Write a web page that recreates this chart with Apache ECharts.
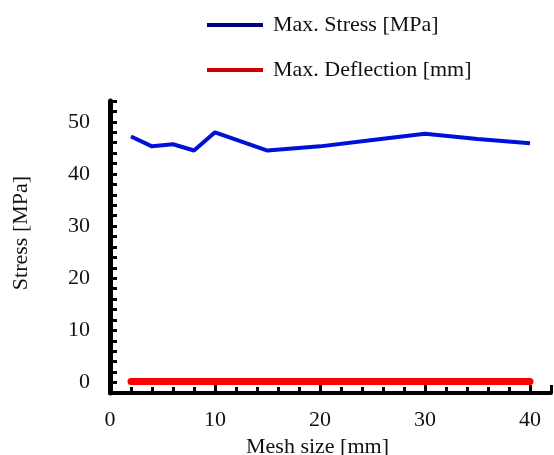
<!DOCTYPE html>
<html>
<head>
<meta charset="utf-8">
<script src="https://cdn.jsdelivr.net/npm/echarts@6/dist/echarts.min.js"></script>
<style>
  html, body { margin: 0; padding: 0; background: #fff; }
  #chart { width: 554px; height: 455px; }
</style>
</head>
<body>
<div id="chart"></div>
<script>
// mesh size [mm]
var meshSize = [2, 4, 6, 8, 10, 15, 20, 25, 30, 35, 40];
var maxStress = [47.2, 45.3, 45.7, 44.5, 48.0, 44.5, 45.3, 46.5, 47.7, 46.7, 45.9];
var maxDeflection = [0.2, 0.2, 0.2, 0.2, 0.2, 0.2, 0.2, 0.2, 0.2, 0.2, 0.2];
var xTickLabels = [0, 10, 20, 30, 40];
var yTickLabels = [0, 10, 20, 30, 40, 50];

function pairs(xs, ys) {
    return xs.map(function (x, i) { return [x, ys[i]]; });
}

var font = '"Liberation Serif", "DejaVu Serif", serif';
var myChart = echarts.init(document.getElementById('chart'));

var option = {
    animation: false,
    textStyle: { fontFamily: font },
    legend: {
        orient: 'vertical',
        left: 202,
        top: 9,
        icon: 'rect',
        itemWidth: 56,
        itemHeight: 4,
        itemGap: 23,
        textStyle: { fontFamily: font, fontSize: 22, color: '#111', padding: [0, 0, 0, 5] },
        data: [
            { name: 'Max. Stress [MPa]', itemStyle: { color: '#000080' } },
            { name: 'Max. Deflection [mm]', itemStyle: { color: '#d00000' } }
        ]
    },
    grid: {
        left: 110,
        right: 3,
        top: 101,
        bottom: 62,
        outerBoundsMode: 'none'
    },
    xAxis: {
        type: 'value',
        min: 0,
        max: 42,
        interval: 10,
        name: 'Mesh size [mm]',
        nameLocation: 'middle',
        nameGap: 40,
        nameTextStyle: { fontFamily: font, fontSize: 22, color: '#111', padding: [0, 26, 0, 0] },
        axisLine: { onZero: false, lineStyle: { color: '#000', width: 4 } },
        axisTick: { inside: true, length: 8, lineStyle: { color: '#000', width: 3 } },
        minorTick: { show: true, splitNumber: 5, length: 6, lineStyle: { color: '#000', width: 3 } },
        splitLine: { show: false },
        axisLabel: {
            margin: 16,
            fontFamily: font,
            fontSize: 22,
            color: '#111',
            formatter: function (v) {
                return xTickLabels.indexOf(v) >= 0 ? String(v) : '';
            }
        }
    },
    yAxis: {
        type: 'value',
        min: -2,
        max: 54,
        interval: 2,
        name: 'Stress [MPa]',
        nameLocation: 'middle',
        nameGap: 78,
        nameTextStyle: { fontFamily: font, fontSize: 22, color: '#111', padding: [0, 0, 0, 28] },
        axisLine: { show: true, onZero: false, lineStyle: { color: '#000', width: 5 } },
        axisTick: { inside: true, length: 7, lineStyle: { color: '#000', width: 3 } },
        splitLine: { show: false },
        axisLabel: {
            margin: 20,
            fontFamily: font,
            fontSize: 22,
            color: '#111',
            formatter: function (v) {
                return yTickLabels.indexOf(v) >= 0 ? String(v) : '';
            }
        }
    },
    series: [
        {
            name: 'Max. Stress [MPa]',
            type: 'line',
            symbol: 'none',
            lineStyle: { color: '#0010d8', width: 4 },
            itemStyle: { color: '#0010d8' },
            data: pairs(meshSize, maxStress)
        },
        {
            name: 'Max. Deflection [mm]',
            type: 'line',
            symbol: 'none',
            lineStyle: { color: '#ff0000', width: 7, cap: 'round' },
            itemStyle: { color: '#ff0000' },
            data: pairs(meshSize, maxDeflection)
        }
    ]
};
myChart.setOption(option);
</script>
</body>
</html>
